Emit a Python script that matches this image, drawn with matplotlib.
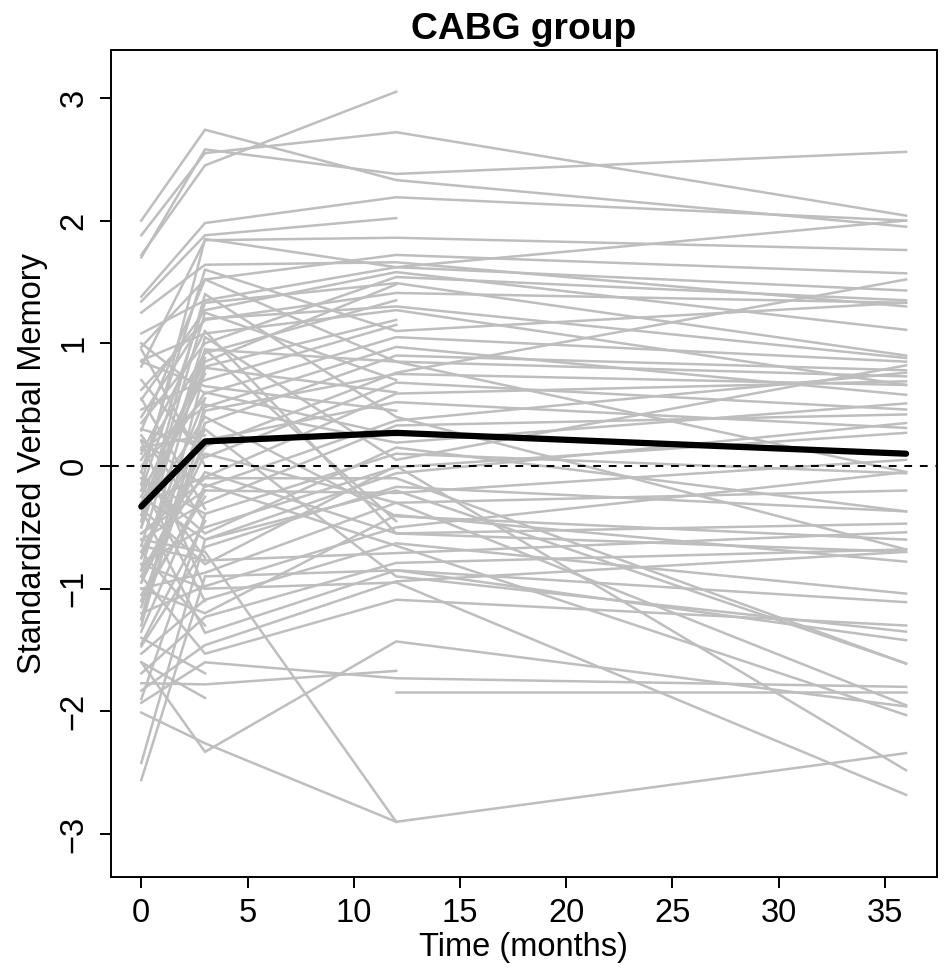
import numpy as np
import matplotlib
matplotlib.use('Agg')
import matplotlib.pyplot as plt

plt.rcParams['font.family'] = ['Liberation Sans', 'DejaVu Sans']

nan = np.nan
months = [0, 3, 12, 36]

# one row per patient: score at 0, 3, 12, 36 months (nan = missing)
t0 = [1.72, 1.88, 2.00, 1.70, 1.38, 1.34, 0.81, 1.25, 0.97, 1.08,
      0.54, 0.35, -0.20, 0.62, 0.05, 0.86, -0.45, 0.46, 1.00, 0.13,
      -0.70, 0.29, -0.90, 0.70, -0.30, -1.10, 0.21, -0.60, -1.30, -0.10,
      -0.80, -0.25, -1.47, -0.55, -1.00, -0.40, -1.20, 0.10, -1.53, -0.65,
      -1.69, -0.35, -1.83, -0.90, -2.01, -1.93, -2.42, -2.56, -1.77, -1.60,
      nan, -0.15, -0.50, -0.75, -1.05, 0.40, -0.20, -0.85, -1.25, 0.25,
      -0.60, -1.40, -0.05, -0.95, 0.55, -0.35, -1.15, -0.70, -0.45, -1.35,
      0.15, -0.80, -0.10, -1.60, 0.85, -0.55, -1.90, -0.25, 0.00, -1.00,
      -0.30, -0.65, -1.10, 0.30, -0.85, -0.15, -1.25, -0.50, 0.95, -0.05,
      -0.75, -1.45, 0.20, -0.40, -0.95]
t3 = [2.45, 2.55, 2.74, 2.58, 1.98, 1.88, 1.84, 1.64, 1.52, 1.35,
      1.27, 1.00, 1.33, 1.19, 0.92, 1.08, 0.81, 0.70, 0.59, 0.48,
      0.35, 1.52, 0.16, 0.07, -0.09, 0.21, -0.17, -0.30, 0.50, -0.39,
      -0.50, -0.60, -0.66, -0.20, -0.87, 0.40, -0.98, 1.10, -1.09, -0.77,
      -1.23, -1.36, -1.46, -1.53, -2.26, -1.60, -0.60, -0.90, -1.78, -2.33,
      nan, 1.85, 0.95, 0.30, -0.25, 1.20, 0.60, -0.05, 0.80, -0.45,
      -0.70, -1.69, 1.60, 0.10, -0.35, -0.80, 0.45, -1.30, 1.40, -0.15,
      0.25, -1.00, -0.55, -1.89, 0.65, -0.10, -0.40, 0.85, 0.55, -1.20,
      0.75, 1.05, -0.20, 0.15, 0.95, -1.10, 0.35, 1.25, 0.00, -0.75,
      0.55, -0.45, -1.00, 0.88, 0.20]
t12 = [3.05, 2.72, 2.33, 2.38, 2.19, 2.02, 1.86, 1.66, 1.72, 1.62,
       1.58, 1.54, 1.49, 1.41, 1.35, 1.27, 1.19, 1.15, 1.05, 0.97,
       0.90, 0.85, 0.76, 0.68, 0.59, 0.52, 0.37, 0.33, 0.19, 0.10,
       -0.01, -0.06, -0.17, -0.22, -0.30, -0.41, -0.50, -0.55, -0.63, -0.71,
       -0.79, -0.85, -0.94, -1.09, -2.90, -1.73, -0.20, -0.85, -1.67, -1.43,
       -1.84, 1.62, 0.85, -0.90, nan, 1.30, 0.25, -0.55, 0.60, nan,
       -2.90, nan, 1.10, -0.30, nan, 0.00, 0.75, nan, 0.40, -0.65,
       nan, -0.95, 0.15, nan, 0.45, -0.10, nan, 1.48, nan, -0.40,
       nan, 0.05, nan, nan, -0.45, nan, nan, 0.70, nan, nan,
       nan, nan, nan, nan, nan]
t36 = [nan, 2.04, 1.95, 2.56, 2.00, nan, 1.76, 1.30, 1.57, 1.43,
       1.11, 1.35, 0.90, 1.33, nan, 0.66, nan, nan, 0.85, 0.58,
       0.78, 0.73, 1.52, 0.46, 0.69, 0.31, 0.76, 0.42, 0.51, -0.06,
       0.27, 0.35, -0.37, 0.05, -0.20, -0.60, -0.05, -0.47, -1.04, -0.54,
       -0.68, -1.11, -0.70, -1.30, -2.34, -1.80, -1.61, -1.42, nan, -1.96,
       -1.84, 2.00, -0.05, -1.35, nan, 0.88, nan, -0.70, nan, nan,
       nan, nan, 1.33, -1.95, nan, -2.48, 0.66, nan, -0.68, -2.03,
       nan, -2.68, -0.37, nan, nan, -1.61, nan, nan, nan, -0.78,
       nan, 0.82, nan, nan, nan, nan, nan, nan, nan, nan,
       nan, nan, nan, nan, nan]

# group mean at each visit
mean_score = [-0.33, 0.20, 0.27, 0.10]

fig = plt.figure(figsize=(9.47, 9.69), dpi=100)
ax = fig.add_axes([0.1169, 0.0949, 0.9891 - 0.1169, 0.9484 - 0.0949])

for row in zip(t0, t3, t12, t36):
    y = np.array(row, dtype=float)
    ok = ~np.isnan(y)
    ax.plot(np.array(months)[ok], y[ok], color='#BEBEBE', lw=1.8,
            solid_joinstyle='miter')

ax.axhline(0, color='black', lw=1.4, ls=(0, (4, 4)))
ax.plot(months, mean_score, color='black', lw=4.5, solid_capstyle='round')

ax.set_xlim(-1.44, 37.44)
ax.set_ylim(-3.35, 3.39)
ax.set_xticks([0, 5, 10, 15, 20, 25, 30, 35])
ax.set_yticks([-3, -2, -1, 0, 1, 2, 3])
ax.set_yticklabels(['\u22123', '\u22122', '\u22121', '0', '1', '2', '3'],
                   rotation=90, va='center')
ax.tick_params(labelsize=23.5, length=8, width=1.4, pad=7)
for s in ax.spines.values():
    s.set_linewidth(1.4)

ax.set_xlabel('Time (months)', fontsize=23.5, labelpad=2)
ax.set_ylabel('Standardized Verbal Memory', fontsize=23.5, labelpad=8)
ax.set_title('CABG group', fontsize=26.8, fontweight='bold', pad=8)

fig.savefig('out.png', dpi=100)
